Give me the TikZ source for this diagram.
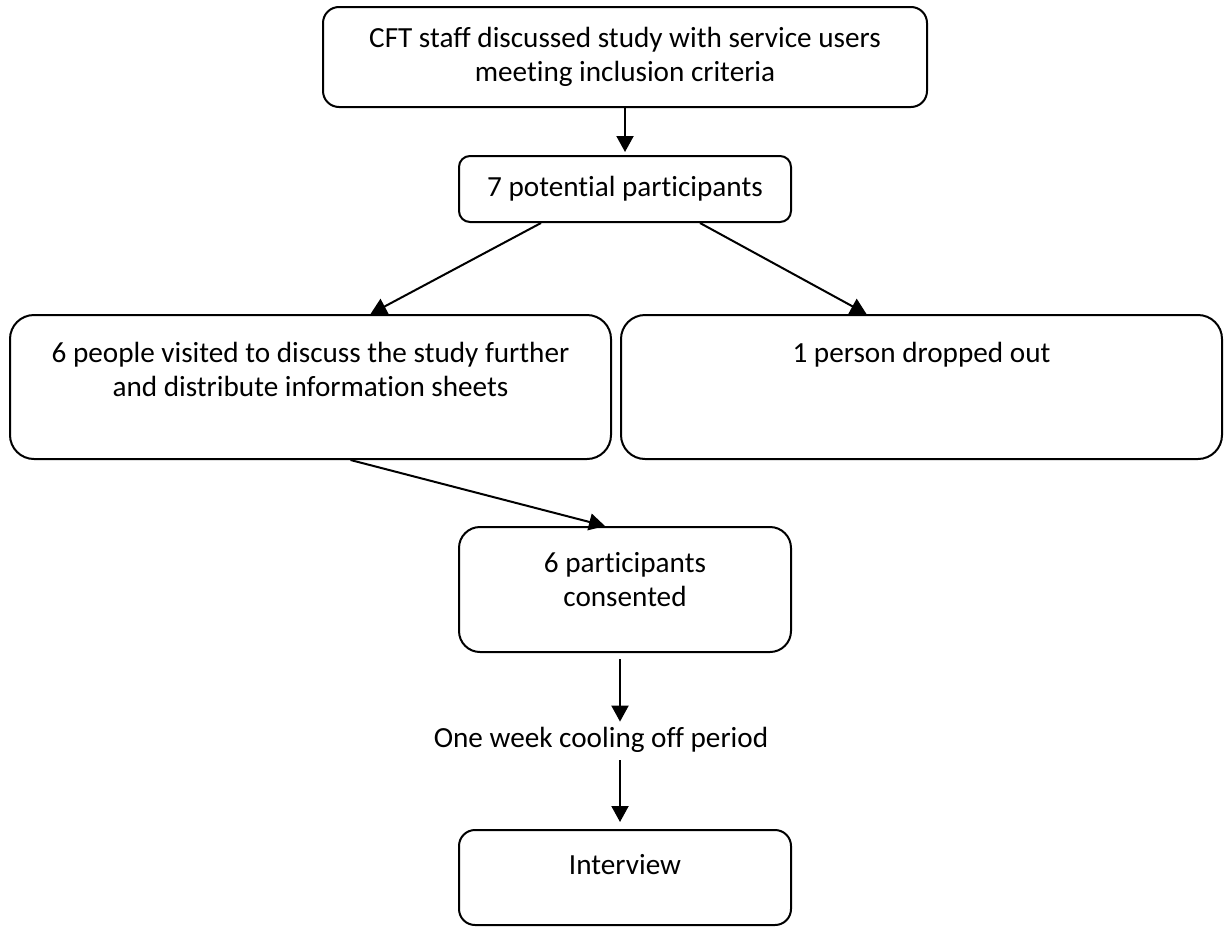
\documentclass[tikz,border=0pt]{standalone}
\usepackage{fontspec}
\setmainfont{Carlito}[Ligatures=NoCommon]
\usetikzlibrary{arrows.meta}

\begin{document}
\begin{tikzpicture}[x=0.5pt, y=-0.5pt,
  box/.style={draw, line width=1pt, inner sep=0pt, align=center,
    font=\fontsize{14.6}{17}\selectfont},
  txt/.style={inner sep=0pt, align=center, font=\fontsize{14.6}{17}\selectfont},
  arr/.style={line width=1pt, -{Triangle[length=8pt, width=8.5pt]}}]
\useasboundingbox (0,0) rectangle (1230,926);

\node[box, minimum width=302pt, minimum height=50pt, rounded corners=8pt] (cft) at (625,57)
  {CFT staff discussed study with service users\\meeting inclusion criteria};
\node[box, minimum width=166pt, minimum height=33pt, rounded corners=5.5pt] (pot) at (625,189)
  {7 potential participants};
\node[box, minimum width=300.5pt, minimum height=72pt, rounded corners=12pt] (visit) at (310.5,387) {};
\node[box, minimum width=300.5pt, minimum height=72pt, rounded corners=12pt] (drop) at (921.5,387) {};
\node[box, minimum width=166pt, minimum height=62.5pt, rounded corners=10.5pt] (consent) at (625,589.5) {};
\node[box, minimum width=166pt, minimum height=47.5pt, rounded corners=8pt] (interview) at (625,877.5) {};

\node[txt, anchor=north] (visittxt) at ([yshift=-14pt]visit.north)
  {6 people visited to discuss the study further\\and distribute information sheets};
\node[txt, anchor=north] (droptxt) at ([yshift=-14pt]drop.north) {1 person dropped out};
\node[txt, anchor=north] (consenttxt) at ([yshift=-13pt]consent.north) {6 participants\\consented};
\node[txt, anchor=north] (interviewtxt) at ([yshift=-12.5pt]interview.north) {Interview};
\node[txt, text height=10pt, text depth=4pt, inner ysep=2.5pt] (week) at (601,741)
  {One week cooling off period};

\coordinate (ax) at (620,0);
\draw[arr, shorten >=1.5pt] (cft.south) -- (pot.north);
\draw[arr] ([xshift=-42pt]pot.south) -- ([xshift=30pt]visit.north);
\draw[arr] ([xshift=37.5pt]pot.south) -- ([xshift=-27.5pt]drop.north);
\draw[arr] ([xshift=20pt]visit.south) -- ([xshift=-10pt]consent.north);
\draw[arr, shorten <=3pt] (consent.south -| ax) -- (week.north -| ax);
\draw[arr, shorten >=3.5pt] (week.south -| ax) -- (interview.north -| ax);
\end{tikzpicture}
\end{document}
